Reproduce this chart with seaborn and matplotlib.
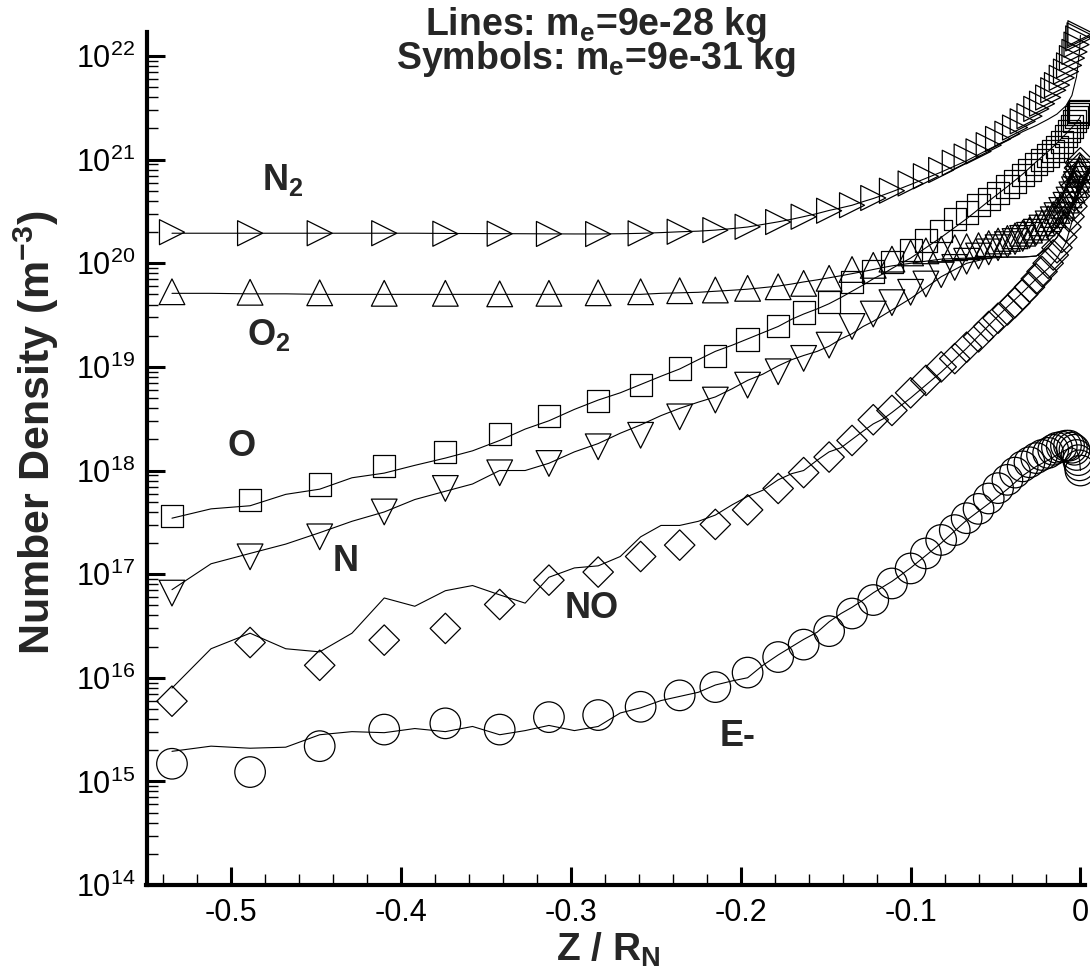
import numpy as np
import matplotlib
matplotlib.use("Agg")
import matplotlib.pyplot as plt
from matplotlib import ticker
import seaborn as sns

# grid of the symbol runs (m_e = 9e-31 kg)
SYM_X = [-0.535, -0.489, -0.448, -0.410, -0.374, -0.342, -0.313, -0.284,
         -0.259, -0.236, -0.215, -0.196, -0.178, -0.163, -0.148,
         -0.1345, -0.122, -0.111, -0.100, -0.091, -0.082, -0.074, -0.067, -0.060, -0.054,
         -0.0485, -0.043, -0.0385, -0.034, -0.030, -0.026, -0.0226, -0.019, -0.016, -0.0138,
         -0.011, -0.0085, -0.0067, -0.005, -0.0035, -0.0023, -0.0013, -0.0005, 0.0]

# grid of the line runs (m_e = 9e-28 kg)
LINE_X = [-0.535, -0.512, -0.489, -0.468, -0.448, -0.429, -0.410, -0.392, -0.374,
          -0.358, -0.342, -0.327, -0.313,
          -0.298, -0.284, -0.271, -0.259, -0.247, -0.236, -0.225, -0.215, -0.205, -0.196,
          -0.187, -0.178, -0.170, -0.163, -0.155, -0.148, -0.141, -0.1345, -0.128, -0.122,
          -0.116, -0.111,
          -0.100, -0.082, -0.067, -0.054, -0.043, -0.034, -0.026, -0.019, -0.0138, -0.0085,
          -0.005, -0.0023, -0.0005, 0.0]

# log10 of number density (m^-3)
N2_SYM = [20.30, 20.29, 20.29, 20.29, 20.285, 20.285, 20.283, 20.282,
          20.289, 20.304, 20.32, 20.352, 20.398, 20.449, 20.507,
          20.56, 20.63, 20.70, 20.77, 20.84, 20.90, 20.97, 21.03, 21.08, 21.14,
          21.20, 21.25, 21.31, 21.37, 21.42, 21.49, 21.54, 21.60, 21.67, 21.72,
          21.79, 21.85, 21.91, 21.98, 22.04, 22.11, 22.17, 22.20, 22.22]
O2_SYM = [19.725, 19.72, 19.715, 19.71, 19.71, 19.705, 19.71, 19.715,
          19.725, 19.735, 19.742, 19.758, 19.773, 19.806, 19.855,
          19.94, 19.98, 20.04, 20.10, 20.12, 20.135, 20.15, 20.16, 20.17, 20.19,
          20.215, 20.24, 20.265, 20.29, 20.32, 20.35, 20.39, 20.43, 20.47, 20.51,
          20.56, 20.61, 20.66, 20.71, 20.76, 20.81, 20.86, 20.90, 20.93]
O_SYM = [17.56, 17.714, 17.866, 18.046, 18.18, 18.35, 18.525, 18.67,
         18.824, 18.985, 19.107, 19.265, 19.394, 19.526, 19.628,
         19.82, 19.92, 20.01, 20.13, 20.22, 20.31, 20.43, 20.49, 20.56, 20.62,
         20.68, 20.74, 20.79, 20.85, 20.90, 20.96, 21.00, 21.04, 21.08, 21.12,
         21.17, 21.23, 21.28, 21.32, 21.37, 21.41, 21.44, 21.46, 21.47]
N_SYM = [16.817, 17.167, 17.36, 17.60, 17.827, 17.978, 18.068, 18.229,
         18.34, 18.518, 18.68, 18.824, 18.953, 19.082, 19.21,
         19.39, 19.51, 19.62, 19.72, 19.80, 19.89, 19.96, 20.02, 20.07, 20.11,
         20.15, 20.18, 20.21, 20.24, 20.27, 20.30, 20.34, 20.38, 20.42, 20.46,
         20.51, 20.56, 20.61, 20.66, 20.71, 20.76, 20.81, 20.85, 20.88]
NO_SYM = [15.774, 16.34, 16.12, 16.363, 16.476, 16.707, 16.942, 17.02,
          17.17, 17.28, 17.48, 17.62, 17.827, 17.98, 18.13,
          18.29, 18.49, 18.58, 18.75, 18.87, 19.0, 19.08, 19.19, 19.29, 19.39,
          19.47, 19.55, 19.62, 19.70, 19.77, 19.85, 19.92, 20.0, 20.08, 20.15,
          20.25, 20.35, 20.45, 20.55, 20.65, 20.75, 20.85, 20.92, 20.97]
E_SYM = [15.17, 15.09, 15.34, 15.50, 15.56, 15.50, 15.62, 15.64,
         15.72, 15.83, 15.91, 16.05, 16.20, 16.32, 16.45,
         16.62, 16.75, 16.91, 17.055, 17.20, 17.33, 17.425, 17.54, 17.63, 17.73,
         17.83, 17.91, 17.98, 18.04, 18.08, 18.12, 18.15, 18.17, 18.20, 18.22,
         18.23, 18.24, 18.24, 18.22, 18.20, 18.15, 18.10, 18.05, 18.00]

N2_LINE = [20.29, 20.29, 20.29, 20.29, 20.29, 20.29, 20.29, 20.29, 20.288, 20.287, 20.286, 20.285, 20.284,
           20.283, 20.283, 20.285, 20.289, 20.296, 20.304, 20.31, 20.32, 20.335, 20.35, 20.375,
           20.40, 20.425, 20.45, 20.48, 20.51, 20.535, 20.56, 20.595, 20.625, 20.66, 20.69,
           20.76, 20.88, 20.99, 21.10, 21.19, 21.27, 21.33, 21.39, 21.44, 21.52, 21.62, 21.80, 22.05, 22.20]
O2_LINE = [19.71, 19.71, 19.705, 19.705, 19.70, 19.70, 19.70, 19.70, 19.70, 19.70, 19.70, 19.70, 19.70,
           19.70, 19.70, 19.70, 19.70, 19.71, 19.715, 19.72, 19.73, 19.74, 19.75, 19.765,
           19.78, 19.80, 19.82, 19.84, 19.86, 19.88, 19.90, 19.92, 19.94, 19.96, 19.975,
           20.0, 20.04, 20.05, 20.06, 20.06, 20.06, 20.07, 20.15, 20.25, 20.40, 20.55, 20.70, 20.82, 20.85]
O_LINE = [17.54, 17.63, 17.66, 17.77, 17.82, 17.93, 17.975, 18.05, 18.12, 18.19, 18.29, 18.40, 18.48,
          18.59, 18.68, 18.75, 18.83, 18.91, 18.98, 19.07, 19.15, 19.21, 19.27, 19.33,
          19.39, 19.46, 19.51, 19.56, 19.61, 19.67, 19.73, 19.79, 19.85, 19.90, 19.95,
          20.05, 20.25, 20.43, 20.60, 20.74, 20.86, 20.98, 21.08, 21.16, 21.25, 21.31, 21.36, 21.40, 21.42]
N_LINE = [16.85, 17.10, 17.20, 17.29, 17.40, 17.51, 17.60, 17.72, 17.80, 17.87, 18.00, 18.00, 18.07,
          18.18, 18.26, 18.36, 18.44, 18.53, 18.60, 18.66, 18.71, 18.79, 18.87, 18.93,
          19.01, 19.07, 19.11, 19.15, 19.20, 19.27, 19.32, 19.39, 19.44, 19.50, 19.55,
          19.66, 19.87, 20.00, 20.05, 20.06, 20.06, 20.07, 20.15, 20.25, 20.40, 20.55, 20.70, 20.82, 20.85]
NO_LINE = [15.90, 16.28, 16.43, 16.28, 16.25, 16.43, 16.77, 16.69, 16.84, 16.89, 16.80, 16.72, 16.97,
           17.06, 17.08, 17.17, 17.36, 17.47, 17.47, 17.51, 17.57, 17.67, 17.75, 17.81,
           17.91, 17.97, 18.00, 18.10, 18.18, 18.22, 18.30, 18.38, 18.45, 18.50, 18.56,
           18.70, 18.95, 19.18, 19.40, 19.58, 19.72, 19.85, 19.95, 20.05, 20.20, 20.40, 20.60, 20.80, 20.85]
E_LINE = [15.29, 15.34, 15.32, 15.33, 15.45, 15.48, 15.47, 15.51, 15.48, 15.53, 15.45, 15.49, 15.54,
          15.49, 15.53, 15.66, 15.71, 15.78, 15.82, 15.86, 15.93, 15.97, 16.00, 16.12,
          16.22, 16.30, 16.37, 16.44, 16.54, 16.62, 16.68, 16.75, 16.82, 16.88, 16.93,
          17.06, 17.30, 17.52, 17.68, 17.82, 17.95, 18.04, 18.10, 18.15, 18.20, 18.22, 18.20, 18.10, 18.00]

SPECIES = ["N2", "O2", "O", "N", "NO", "E-"]
LABELS = ["N$_\\mathbf{2}$", "O$_\\mathbf{2}$", "O", "N", "NO", "E-"]
SYMS = [N2_SYM, O2_SYM, O_SYM, N_SYM, NO_SYM, E_SYM]
LINES = [N2_LINE, O2_LINE, O_LINE, N_LINE, NO_LINE, E_LINE]
MARKERS = [">", "^", "s", "v", "D", "o"]
MSIZE = [18, 18.5, 16, 18.5, 15.5, 22]
# label anchor (x, log10 n)
LABEL_POS = [(-0.470, 20.80), (-0.478, 19.31), (-0.494, 18.23),
             (-0.4325, 17.12), (-0.2876, 16.67), (-0.2016, 15.43)]

XTICKS = [-0.5, -0.4, -0.3, -0.2, -0.1, 0.0]
XTICKLABELS = ["-0.5", "-0.4", "-0.3", "-0.2", "-0.1", "0"]

sns.set_style("ticks")
plt.rcParams["font.family"] = ["Liberation Sans", "DejaVu Sans"]
plt.rcParams["mathtext.fontset"] = "custom"
plt.rcParams["mathtext.rm"] = "Liberation Sans"
plt.rcParams["mathtext.bf"] = "Liberation Sans:bold"
plt.rcParams["mathtext.it"] = "Liberation Sans:italic"
plt.rcParams["axes.unicode_minus"] = False

W, H = 1090, 972
fig = plt.figure(figsize=(W / 100, H / 100), dpi=100)
ax = fig.add_axes([146.5 / W, 87 / H, 938.5 / W, 853 / H])

for sym, line, mk, ms in zip(SYMS, LINES, MARKERS, MSIZE):
    sns.lineplot(x=LINE_X, y=10.0 ** np.array(line), ax=ax, color="k",
                 linewidth=0.8, sort=False, estimator=None)
    sns.scatterplot(x=SYM_X, y=10.0 ** np.array(sym), ax=ax, marker=mk, s=ms ** 2,
                    color="k", facecolor="none", edgecolor="k", linewidth=0.9,
                    clip_on=False, zorder=3)

for lab, (lx, ly) in zip(LABELS, LABEL_POS):
    ax.text(lx, 10.0 ** ly, lab, ha="center", va="center",
            fontsize=26, fontweight="bold")

ax.set_yscale("log")
ax.set_xlim(-0.55, 0.0027)
ax.set_ylim(1e14, 10 ** 22.232)
ax.set_xticks(XTICKS, XTICKLABELS)
ax.xaxis.set_minor_locator(ticker.MultipleLocator(0.02))
ax.yaxis.set_major_locator(ticker.LogLocator(base=10, numticks=20))
ax.yaxis.set_minor_locator(ticker.LogLocator(base=10, subs=np.arange(2, 10), numticks=20))
ax.yaxis.set_minor_formatter(ticker.NullFormatter())
ax.tick_params(which="major", direction="in", length=13, width=2.2,
               labelsize=22, color="k", labelcolor="k")
ax.tick_params(axis="y", which="major", pad=8)
ax.tick_params(axis="x", which="major", pad=9)
ax.tick_params(which="minor", direction="in", length=8, width=1, color="k")
for side in ["top", "right"]:
    ax.spines[side].set_visible(False)
for side in ["left", "bottom"]:
    ax.spines[side].set_linewidth(3)
    ax.spines[side].set_color("k")

fig.text(36 / W, 1 - 433 / H, "Number Density (m$^{\\mathbf{-3}}$)", rotation=90,
         ha="center", va="center", fontsize=31, fontweight="bold")
fig.text(608 / W, 1 - 950 / H, "Z / R$_\\mathbf{N}$", ha="center", va="center",
         fontsize=28, fontweight="bold")
fig.text(596 / W, 1 - 42 / H,
         "Lines: m$_\\mathbf{e}$=9e-28 kg\nSymbols: m$_\\mathbf{e}$=9e-31 kg",
         ha="center", va="center", fontsize=27, fontweight="bold", linespacing=0.78)

fig.savefig("out.png", dpi=100)
